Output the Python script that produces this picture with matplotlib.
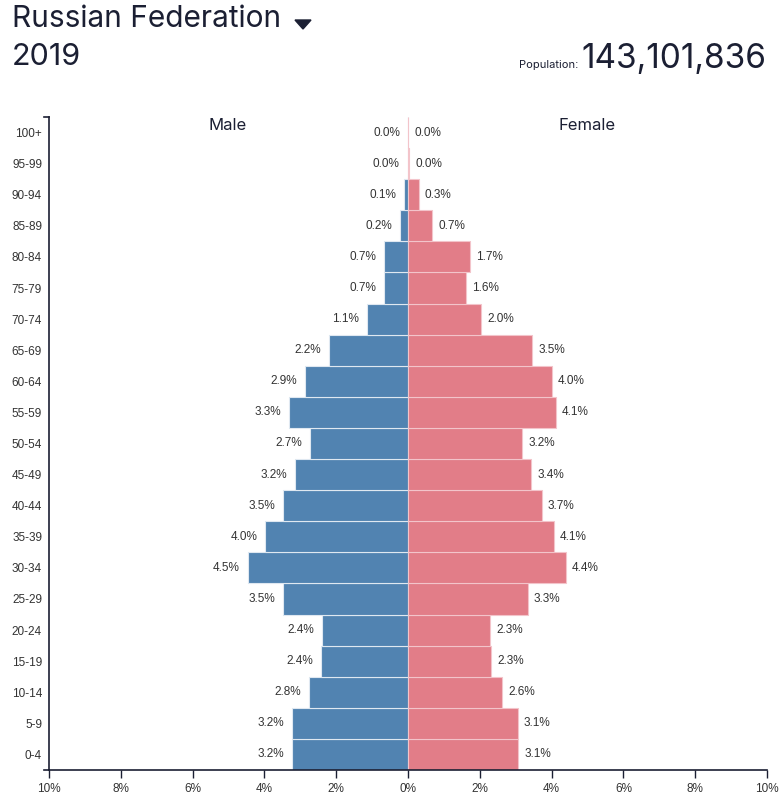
import matplotlib.pyplot as plt
from matplotlib.patches import Polygon

plt.rcParams['font.family'] = ['Inter', 'DejaVu Sans']

# Data (percent of total population)
age_groups = ['0-4', '5-9', '10-14', '15-19', '20-24', '25-29', '30-34', '35-39',
              '40-44', '45-49', '50-54', '55-59', '60-64', '65-69', '70-74',
              '75-79', '80-84', '85-89', '90-94', '95-99', '100+']
male = [3.23, 3.23, 2.76, 2.42, 2.40, 3.48, 4.46, 3.98, 3.48, 3.16, 2.73,
        3.31, 2.87, 2.21, 1.14, 0.67, 0.67, 0.22, 0.11, 0.01, 0.002]
female = [3.07, 3.06, 2.62, 2.31, 2.28, 3.34, 4.40, 4.06, 3.73, 3.43, 3.18,
          4.12, 4.01, 3.46, 2.03, 1.62, 1.72, 0.67, 0.30, 0.04, 0.005]
x_ticks = [-10, -8, -6, -4, -2, 0, 2, 4, 6, 8, 10]

navy = '#1b1f33'
blue = '#5183b1'
pink = '#e27d88'
grey = '#333333'
small = ['Liberation Sans', 'DejaVu Sans']

fig = plt.figure(figsize=(7.81, 8), dpi=100)
ax = fig.add_axes([49 / 781, 30 / 800, 718 / 781, 653 / 800])

y = list(range(len(age_groups)))
ax.barh(y, [-m for m in male], height=1.0, color=blue, edgecolor='#dfe8f1', linewidth=0.8)
ax.barh(y, female, height=1.0, color=pink, edgecolor='#f3c4ca', linewidth=0.8)

for i in y:
    ax.text(-male[i] - 0.22, i, f'{male[i]:.1f}%', ha='right', va='center',
            fontsize=8.5, color=grey, family=small)
    ax.text(female[i] + 0.17, i, f'{female[i]:.1f}%', ha='left', va='center',
            fontsize=8.5, color=grey, family=small)

ax.set_xlim(-10, 10)
ax.set_ylim(-0.5, len(age_groups) - 0.5)
ax.set_yticks(y)
ax.set_yticklabels(age_groups, fontsize=8.5, color=grey, family=small)
ax.tick_params(axis='y', length=0, pad=5)
ax.set_xticks(x_ticks)
ax.set_xticklabels([f'{abs(t)}%' for t in x_ticks], fontsize=8.5, color=grey, family=small)
ax.tick_params(axis='x', length=6, width=1, color=navy, pad=3)

for s in ['top', 'right']:
    ax.spines[s].set_visible(False)
for s in ['left', 'bottom']:
    ax.spines[s].set_color(navy)
    ax.spines[s].set_linewidth(1.2)

# outer ticks of the vertical axis
ax.plot([-0.007, 0], [1, 1], transform=ax.transAxes, color=navy, lw=1.2, clip_on=False)
ax.plot([-0.007, 0], [0, 0], transform=ax.transAxes, color=navy, lw=1.2, clip_on=False)

fig.text(228 / 781, 1 - 125 / 800, 'Male', ha='center', va='center',
         fontsize=12, color=navy)
fig.text(587 / 781, 1 - 125 / 800, 'Female', ha='center', va='center',
         fontsize=12, color=navy)

fig.text(12 / 781, 1 - 19 / 800, 'Russian Federation', ha='left', va='center',
         fontsize=21.5, color=navy)
# dropdown caret
caret = Polygon([(295 / 781, 1 - 20 / 800), (311 / 781, 1 - 20 / 800),
                 (303 / 781, 1 - 29 / 800)], closed=True, color=navy,
                transform=fig.transFigure)
fig.patches.append(caret)
fig.text(12 / 781, 1 - 57 / 800, '2019', ha='left', va='center', fontsize=22, color=navy)
fig.text(766 / 781, 1 - 59 / 800, '143,101,836', ha='right', va='center',
         fontsize=24, color=navy)
fig.text(578 / 781, 1 - 65 / 800, 'Population:', ha='right', va='center',
         fontsize=8, color=navy)

fig.savefig('out.png', dpi=100)
